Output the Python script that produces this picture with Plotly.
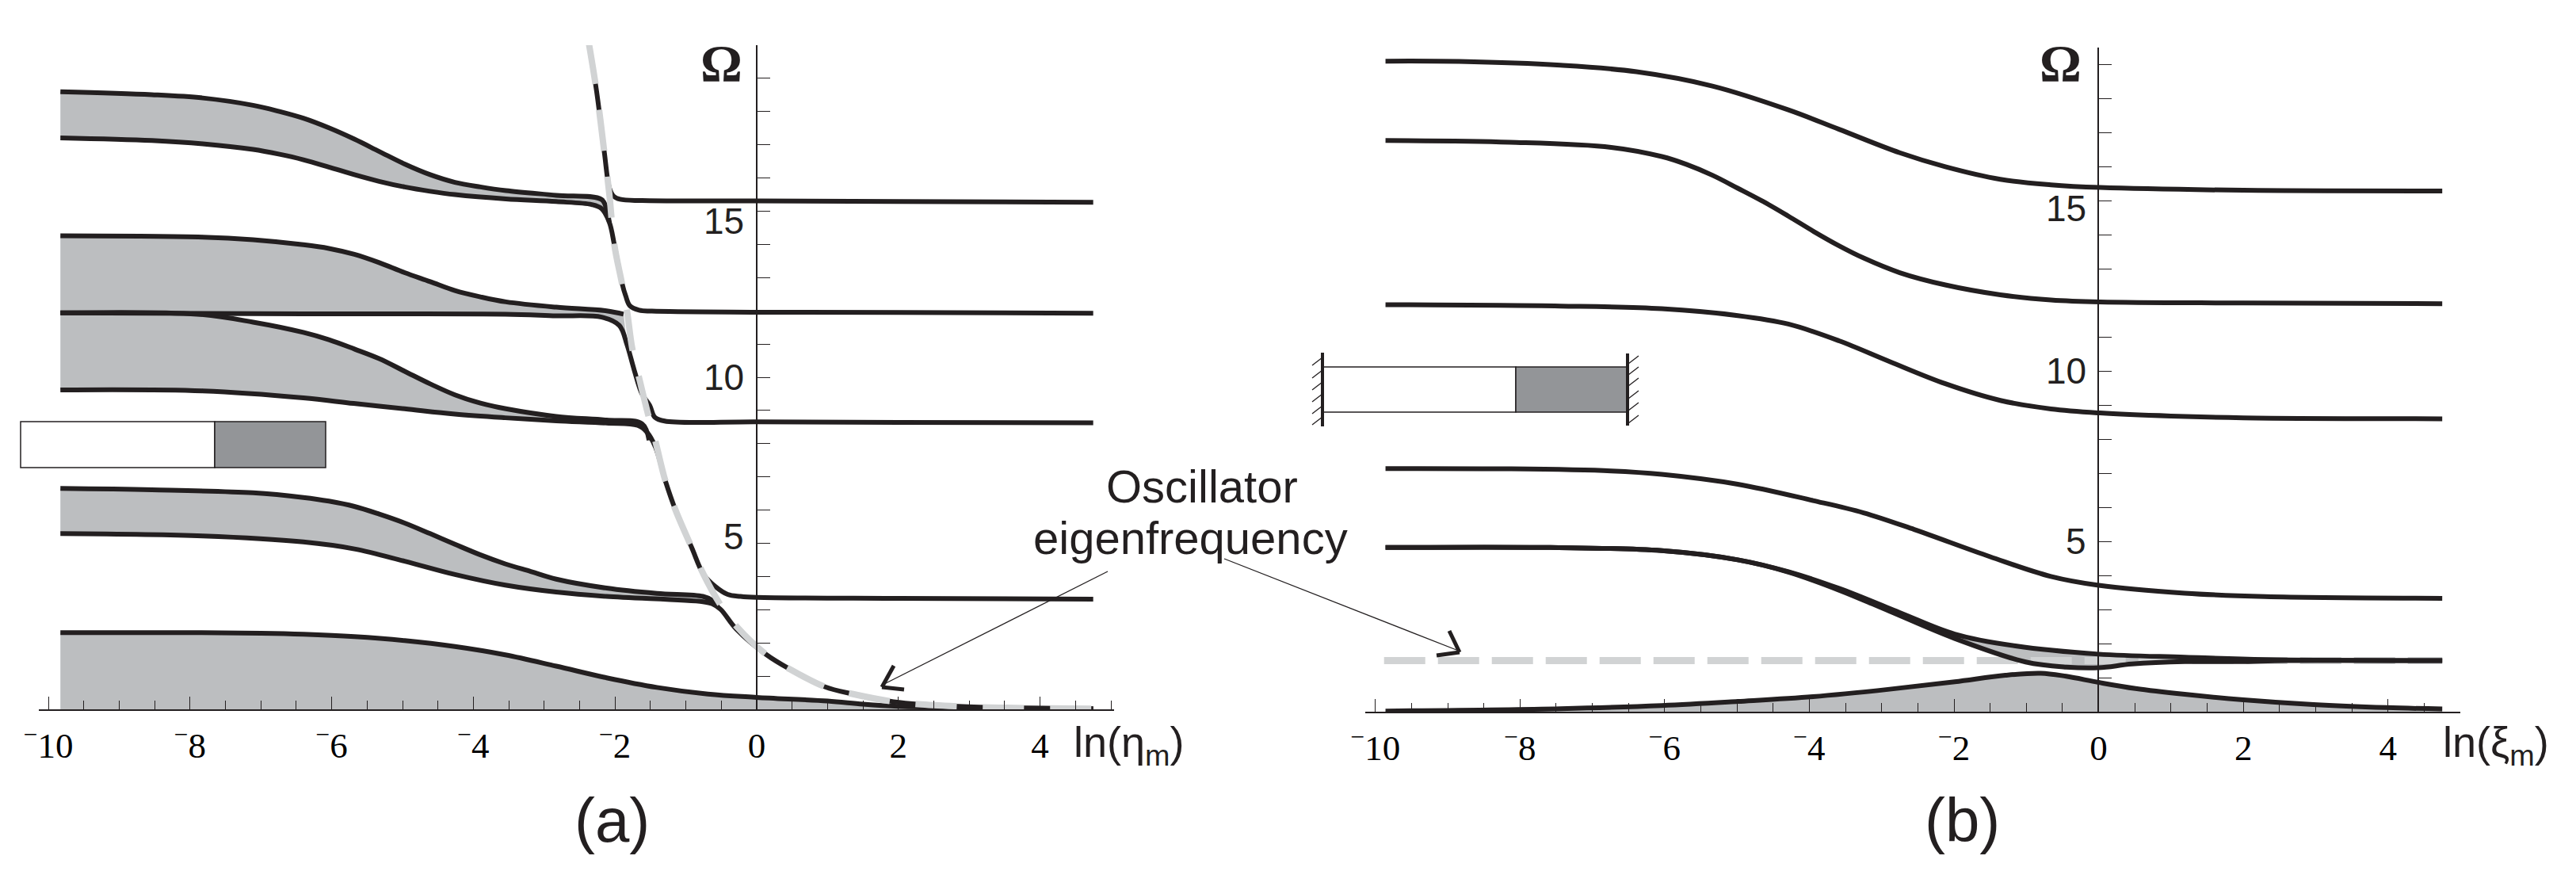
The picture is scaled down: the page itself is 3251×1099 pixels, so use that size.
import plotly.graph_objects as go

W = 3251
H = 1099

# ---- panel (a): values ----
a_top_x = [-2.37, -2.26, -2.15, -2.08, -2.02, -1.93, -1.62, 0, 2, 4.75]
a_top_y = [20.06, 18.6, 16.75, 15.7, 15.45, 15.36, 15.32, 15.31, 15.29, 15.27]

a_b5_up_x = [-9.83, -8.54, -7.82, -7.11, -6.75, -6.40, -6.04, -5.68, -5.33, -4.97, -4.61, -4.26, -3.90, -3.54, -2.83, -2.19, -2.12, -2.08]
a_b5_up_y = [18.60, 18.51, 18.41, 18.19, 18.01, 17.80, 17.51, 17.17, 16.80, 16.42, 16.10, 15.87, 15.73, 15.62, 15.48, 15.35, 15.05, 14.66]
a_b5_lo_x = [-9.83, -8.54, -7.82, -7.11, -6.75, -6.40, -6.04, -5.68, -5.33, -4.97, -4.61, -4.26, -3.54, -2.83, -2.33, -2.19, -2.08, -2.01, -1.90, -1.85, -1.79, -1.66, -1.48, 0, 2, 4.75]
a_b5_lo_y = [17.21, 17.13, 17.03, 16.86, 16.72, 16.55, 16.33, 16.10, 15.90, 15.73, 15.60, 15.50, 15.37, 15.29, 15.20, 15.08, 14.66, 13.99, 12.82, 12.45, 12.15, 12.02, 11.99, 11.96, 11.95, 11.93]

a_b4_up_x = [-9.83, -7.82, -7.11, -6.40, -6.04, -5.68, -5.33, -4.97, -4.61, -4.26, -3.90, -3.54, -2.83, -2.12, -1.88]
a_b4_up_y = [14.26, 14.22, 14.14, 13.99, 13.88, 13.70, 13.45, 13.15, 12.88, 12.61, 12.42, 12.27, 12.11, 12.0, 11.9]
a_b4_lo_x = [-9.83, -6.4, -3.55, -2.83, -2.19, -1.94, -1.83, -1.73, -1.62, -1.51, -1.44, -1.3, 0, 2, 4.75]
a_b4_lo_y = [11.94, 11.91, 11.90, 11.85, 11.81, 11.56, 10.97, 10.22, 9.5, 9.15, 8.80, 8.68, 8.66, 8.64, 8.63]

a_b3_up_x = [-9.83, -7.9, -7.11, -6.40, -6.04, -5.68, -5.33, -4.97, -4.61, -4.26, -3.90, -3.54, -2.83, -2.12, -1.62, -1.52]
a_b3_up_y = [11.94, 11.90, 11.66, 11.35, 11.13, 10.85, 10.56, 10.18, 9.80, 9.47, 9.22, 9.05, 8.82, 8.71, 8.60, 8.1]
a_b3_lo_x = [-9.83, -7.82, -6.40, -5.69, -4.97, -4.26, -3.55, -2.83, -2.12, -1.68, -1.55, -1.43, -1.29, -1.15, -0.92, -0.75, -0.58, -0.41, -0.23, 0, 2, 4.75]
a_b3_lo_y = [9.62, 9.59, 9.38, 9.21, 9.05, 8.89, 8.78, 8.69, 8.62, 8.55, 8.35, 7.9, 6.88, 6.02, 4.88, 4.06, 3.69, 3.46, 3.40, 3.37, 3.34, 3.32]

a_b2_up_x = [-9.83, -8.54, -7.11, -6.40, -6.04, -5.68, -5.33, -4.97, -4.61, -4.26, -3.90, -3.55, -3.19, -2.83, -2.12, -1.41, -0.76, -0.63, -0.55]
a_b2_up_y = [6.65, 6.61, 6.52, 6.38, 6.27, 6.11, 5.88, 5.61, 5.29, 4.97, 4.65, 4.38, 4.15, 3.92, 3.65, 3.49, 3.40, 3.28, 3.1]
a_b2_lo_x = [-9.83, -7.82, -6.40, -5.68, -4.97, -4.26, -3.55, -2.83, -2.12, -0.76, -0.63, -0.51, -0.29, 0.14, 0.45, 0.96, 1.36, 1.93, 2.85, 4.75]
a_b2_lo_y = [5.29, 5.22, 5.04, 4.83, 4.46, 4.06, 3.74, 3.53, 3.40, 3.24, 3.18, 3.01, 2.42, 1.64, 1.23, 0.68, 0.46, 0.23, 0.09, 0.02]

a_b1_x = [-9.83, -8, -7, -6.4, -5.68, -4.97, -4.26, -3.55, -2.83, -2.12, -1.41, -0.69, 0, 1, 1.5, 2, 3, 4.75]
a_b1_y = [2.31, 2.31, 2.29, 2.26, 2.19, 2.07, 1.89, 1.64, 1.30, 0.95, 0.66, 0.46, 0.36, 0.25, 0.155, 0.09, 0.05, 0.02]

a_osc_x = [-2.37, -2.26, -2.15, -2.08, -2.01, -1.90, -1.83, -1.76, -1.65, -1.535, -1.43, -1.29, -1.15, -0.92, -0.75, -0.51, -0.29, 0.14, 0.45, 0.96, 1.36, 1.93, 2.28, 2.85, 3.42, 4.77]
a_osc_y = [20.06, 18.6, 16.75, 15.5, 13.99, 12.8, 11.98, 10.9, 9.89, 8.89, 8.07, 6.88, 6.02, 4.88, 4.06, 3.14, 2.51, 1.64, 1.23, 0.68, 0.46, 0.23, 0.155, 0.09, 0.05, 0.02]

# ---- panel (b) ----
b_c6_x = [-9.86, -8.84, -7.44, -6.39, -5.34, -4.29, -3.59, -2.75, -2.12, -1.36, -0.66, 0.02, 2, 4.75]
b_c6_y = [19.10, 19.09, 18.98, 18.79, 18.37, 17.67, 17.10, 16.41, 16.0, 15.63, 15.47, 15.39, 15.31, 15.29]

b_c5_x = [-9.86, -8.14, -6.74, -6.04, -5.70, -5.34, -4.99, -4.64, -4.29, -3.94, -3.59, -3.25, -2.75, -2.12, -1.36, -0.66, 0.02, 2, 4.75]
b_c5_y = [16.77, 16.72, 16.57, 16.30, 16.07, 15.75, 15.37, 14.98, 14.55, 14.10, 13.68, 13.32, 12.89, 12.53, 12.24, 12.09, 12.03, 12.0, 11.98]

b_c4_x = [-9.86, -7.44, -6.04, -4.99, -4.29, -3.59, -2.89, -2.12, -1.36, -0.66, 0.02, 1, 2, 4.75]
b_c4_y = [11.95, 11.91, 11.83, 11.63, 11.38, 10.89, 10.28, 9.63, 9.14, 8.89, 8.77, 8.68, 8.63, 8.60]

b_c3_x = [-9.86, -8.14, -6.74, -6.04, -4.99, -3.95, -3.25, -2.55, -1.50, -0.66, 0, 1.19, 2.30, 4.75]
b_c3_y = [7.14, 7.13, 7.07, 6.97, 6.68, 6.20, 5.84, 5.35, 4.55, 3.97, 3.71, 3.48, 3.38, 3.33]

b_c2_up_x = [-9.86, -7.58, -6.04, -4.99, -4.29, -3.59, -2.75, -1.99, -1.15, 0, 1.19, 2.30, 4.75]
b_c2_up_y = [4.82, 4.82, 4.73, 4.46, 4.11, 3.62, 2.91, 2.28, 1.93, 1.69, 1.60, 1.53, 1.50]
b_c2_lo_x = [-9.86, -7.58, -6.04, -4.99, -4.29, -3.59, -2.89, -1.99, -1.01, -0.45, 0, 0.46, 1.19, 1.94, 2.6, 4.75]
b_c2_lo_y = [4.82, 4.82, 4.73, 4.46, 4.10, 3.57, 2.95, 2.15, 1.46, 1.31, 1.29, 1.40, 1.47, 1.47, 1.50, 1.50]

b_c1_x = [-9.86, -7.44, -6.04, -4.99, -3.95, -2.89, -1.99, -1.29, -0.80, -0.45, 0, 0.51, 1.19, 2.0, 2.97, 3.98, 4.75]
b_c1_y = [0.02, 0.09, 0.18, 0.30, 0.44, 0.66, 0.88, 1.07, 1.13, 1.04, 0.86, 0.68, 0.51, 0.35, 0.21, 0.12, 0.08]

b_osc_x = [-9.88, 4.75]
b_osc_y = [1.50, 1.50]

# ---- ticks and labels ----
x_tickvals = [-10, -8, -6, -4, -2, 0, 2, 4]
x_ticktext = ["<sup>\u2212</sup>10", "<sup>\u2212</sup>8", "<sup>\u2212</sup>6", "<sup>\u2212</sup>4", "<sup>\u2212</sup>2", "0", "2", "4"]
y_labels = ["5", "10", "15"]
y_label_vals = [5, 10, 15]
a_label_shift = [9, 0, -12]
b_label_shift = [0, 0, -10]
osc_lines = ["Oscillator", "eigenfrequency"]

BLACK = "#231f20"
FILL = "#bcbec0"
DASH = "#d1d3d4"
BAR = "#939598"


def px(v):
    return v / W


def py(v):
    return 1 - v / H


def add_line(fig, x, y, xa, ya):
    fig.add_trace(go.Scatter(x=x, y=y, xaxis=xa, yaxis=ya, mode="lines", cliponaxis=False,
                             line=dict(color=BLACK, width=6, shape="spline", smoothing=1.0),
                             hoverinfo="skip"))


def add_band(fig, x1, y1, x2, y2, xa, ya, cut=5):
    # only the part of the lower curve left of cut closes the shaded band
    n = sum(1 for v in x2 if v <= cut)
    fig.add_trace(go.Scatter(x=x1 + x2[:n][::-1], y=y1 + y2[:n][::-1], xaxis=xa, yaxis=ya, mode="lines",
                             fill="toself", fillcolor=FILL, line=dict(width=0), cliponaxis=False,
                             hoverinfo="skip"))


def add_floor(fig, x, y, xa, ya):
    fig.add_trace(go.Scatter(x=x, y=y, xaxis=xa, yaxis=ya, mode="lines", fill="tozeroy",
                             fillcolor=FILL, line=dict(width=0), cliponaxis=False, hoverinfo="skip"))


def seg(x0, y0, x1, y1, width=1.3, color=BLACK):
    return dict(type="line", xref="paper", yref="paper", x0=px(x0), y0=py(y0), x1=px(x1), y1=py(y1),
                line=dict(color=color, width=width))


def rect(x0, y0, x1, y1, fill):
    return dict(type="rect", xref="paper", yref="paper", x0=px(x0), y0=py(y0), x1=px(x1), y1=py(y1),
                fillcolor=fill, line=dict(color=BLACK, width=1.5))


fig = go.Figure()

# panel (a) - shading first, lines on top, grey oscillator dashes last
add_floor(fig, a_b1_x, a_b1_y, "x", "y")
add_band(fig, a_b2_up_x, a_b2_up_y, a_b2_lo_x, a_b2_lo_y, "x", "y", cut=-0.51)
add_band(fig, a_b3_up_x, a_b3_up_y, a_b3_lo_x, a_b3_lo_y, "x", "y", cut=-1.43)
add_band(fig, a_b4_up_x, a_b4_up_y, a_b4_lo_x, a_b4_lo_y, "x", "y", cut=-1.83)
add_band(fig, a_b5_up_x, a_b5_up_y, a_b5_lo_x, a_b5_lo_y, "x", "y", cut=-2.08)
for cx, cy in [(a_b1_x, a_b1_y), (a_b2_up_x, a_b2_up_y), (a_b2_lo_x, a_b2_lo_y),
               (a_b3_up_x, a_b3_up_y), (a_b3_lo_x, a_b3_lo_y), (a_b4_up_x, a_b4_up_y),
               (a_b4_lo_x, a_b4_lo_y), (a_b5_up_x, a_b5_up_y), (a_b5_lo_x, a_b5_lo_y),
               (a_top_x, a_top_y)]:
    add_line(fig, cx, cy, "x", "y")
fig.add_trace(go.Scatter(x=a_osc_x, y=a_osc_y, xaxis="x", yaxis="y", mode="lines", cliponaxis=False,
                         line=dict(color=DASH, width=8, dash="52px,33px", shape="spline", smoothing=1.0),
                         hoverinfo="skip"))

# panel (b)
add_floor(fig, b_c1_x, b_c1_y, "x2", "y2")
add_band(fig, b_c2_up_x, b_c2_up_y, b_c2_lo_x, b_c2_lo_y, "x2", "y2")
fig.add_trace(go.Scatter(x=b_osc_x, y=b_osc_y, xaxis="x2", yaxis="y2", mode="lines", cliponaxis=False,
                         line=dict(color=DASH, width=9, dash="52px,16px"), hoverinfo="skip"))
for cx, cy in [(b_c1_x, b_c1_y), (b_c2_up_x, b_c2_up_y), (b_c2_lo_x, b_c2_lo_y), (b_c3_x, b_c3_y),
               (b_c4_x, b_c4_y), (b_c5_x, b_c5_y), (b_c6_x, b_c6_y)]:
    add_line(fig, cx, cy, "x2", "y2")

x_common = dict(tickvals=x_tickvals, ticktext=x_ticktext, ticks="inside", ticklen=16, tickwidth=1.3,
                tickcolor=BLACK, showgrid=False, zeroline=False, showline=True, linecolor=BLACK,
                linewidth=1.5, ticklabelstandoff=5, automargin=False,
                tickfont=dict(family="Liberation Serif", size=45, color="#000000"),
                minor=dict(ticks="inside", dtick=0.5, tick0=0, ticklen=11, tickwidth=1.3, tickcolor=BLACK))
y_common = dict(ticks="inside", dtick=1, ticklen=16, tickwidth=1.3, tickcolor=BLACK, showgrid=False,
                zeroline=False, showline=True, linecolor=BLACK, linewidth=1.5, showticklabels=False,
                automargin=False)

# inset bars
shapes = [rect(26, 532, 271, 590, "#ffffff"), rect(271, 532, 411, 590, BAR),
          rect(1670, 463, 1913, 520, "#ffffff"), rect(1913, 463, 2054, 520, BAR),
          seg(1669, 445, 1669, 538, width=4), seg(2054, 446, 2054, 537, width=4)]
for h in [456, 472, 487, 502, 517, 531]:
    shapes.append(seg(1656, h + 5, 1669, h - 5))
for h in [454, 468, 482, 498, 513, 529]:
    shapes.append(seg(2055, h + 5, 2068, h - 5))

# arrows to the oscillator curves
shapes += [seg(1398, 721, 1116, 863, width=1.3), seg(1128, 840, 1113, 867, width=5), seg(1113, 867, 1141, 870, width=5),
           seg(1545, 705, 1838, 820, width=1.3), seg(1829, 796, 1842, 823, width=5), seg(1842, 823, 1813, 827, width=5)]

annotations = []
for name, lab_shift, xa, ya in [("a", a_label_shift, "x", "y"), ("b", b_label_shift, "x2", "y2")]:
    for txt, val, sh in zip(y_labels, y_label_vals, lab_shift):
        annotations.append(dict(text=txt, x=0, y=val, xref=xa, yref=ya, xanchor="right", yanchor="middle",
                                xshift=-14, yshift=sh, showarrow=False,
                                font=dict(family="Liberation Sans", size=46, color=BLACK)))


def label(txt, x, y, size, family="Liberation Sans", anchor="center"):
    annotations.append(dict(text=txt, x=px(x), y=py(y), xref="paper", yref="paper", xanchor=anchor,
                            yanchor="middle", showarrow=False,
                            font=dict(family=family, size=size, color=BLACK)))


label("<b>\u03a9</b>", 910, 80, 66, family="Liberation Serif")
label("<b>\u03a9</b>", 2600, 80, 66, family="Liberation Serif")
label("ln(\u03b7<sub>m</sub>)", 1353, 940, 54, anchor="left")
label("ln(\u03be<sub>m</sub>)", 3081, 940, 54, anchor="left")
label("(a)", 772, 1035, 78)
label("(b)", 2476, 1035, 78)
label(osc_lines[0], 1517, 613, 58)
label(osc_lines[1], 1502, 678, 58)

fig.update_layout(
    width=W, height=H, margin=dict(l=0, r=0, t=0, b=0), paper_bgcolor="white", plot_bgcolor="rgba(0,0,0,0)",
    showlegend=False, hovermode=False, shapes=shapes, annotations=annotations,
    xaxis=dict(domain=[px(49.4), px(1405.6)], range=[-10.13, 5.04], anchor="y", **x_common),
    yaxis=dict(domain=[py(895), py(57)], range=[0, 20], anchor="free", position=px(955), **y_common),
    xaxis2=dict(domain=[px(1723), px(3105)], range=[-10.14, 5.0], anchor="y2", **x_common),
    yaxis2=dict(domain=[py(898), py(60)], range=[0, 19.5], anchor="free", position=px(2648), **y_common),
)

fig.write_html("out.html", config=dict(displayModeBar=False),
               post_script="document.body.style.margin='0';")
